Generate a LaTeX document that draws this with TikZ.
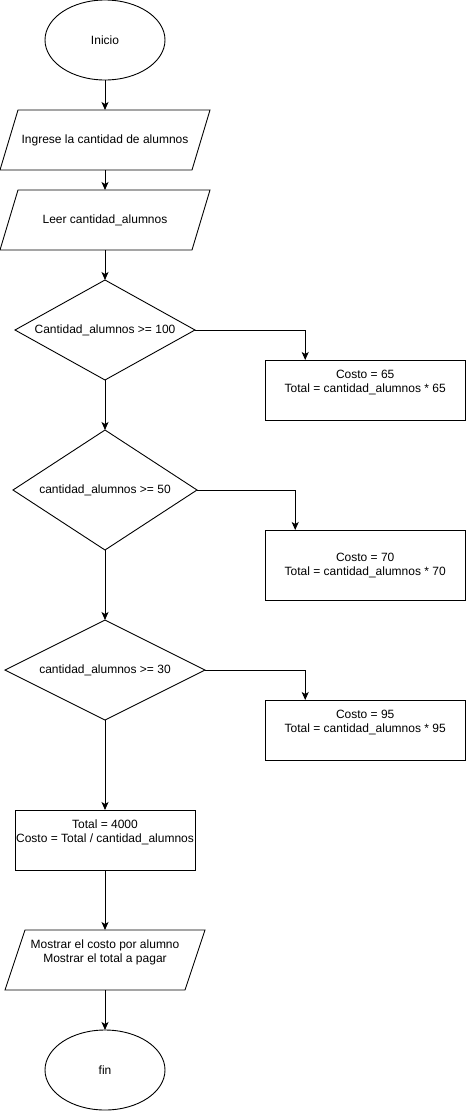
\documentclass[tikz,border=0pt]{standalone}
\usepackage{fontspec}
\setmainfont{Liberation Sans}
\usetikzlibrary{shapes.geometric,arrows.meta,calc}
\tikzset{
  base/.style={inner sep=0pt, outer sep=0pt, align=center, font=\fontsize{12}{14}\selectfont},
  shapeline/.style={draw=black, line width=0.9pt},
  term/.style={base, ellipse, shapeline, minimum width=120, minimum height=80},
  io/.style={base, minimum height=60},
  cond/.style={base, rectangle},
  proc/.style={base, rectangle, shapeline},
  arr/.style={line width=0.9pt, -{Stealth[length=8pt,width=7pt,inset=2pt]}}
}
\begin{document}
\begin{tikzpicture}[x=1pt,y=-1pt]
\useasboundingbox (0,0) rectangle (466,1111);
\node[term] (ini) at (105,40) {Inicio};
\node[io, minimum width=210] (p1) at (105,140) {Ingrese la cantidad de alumnos};
\node[io, minimum width=210] (p2) at (105,220) {Leer cantidad\_alumnos};
\node[cond, minimum width=180, minimum height=100] (d1) at (105,330) {Cantidad\_alumnos >= 100};
\node[proc, minimum width=200, minimum height=60] (b1) at (365.2,390) {Costo = 65\\Total = cantidad\_alumnos * 65\\\strut};
\node[cond, minimum width=184, minimum height=120] (d2) at (105,490) {cantidad\_alumnos >= 50};
\node[proc, minimum width=200, minimum height=70] (b2) at (365.2,565) {Costo = 70\\Total = cantidad\_alumnos * 70};
\node[cond, minimum width=200, minimum height=100] (d3) at (105,670) {cantidad\_alumnos >= 30};
\node[proc, minimum width=200, minimum height=60] (b3) at (365.2,730) {Costo = 95\\Total = cantidad\_alumnos * 95\\\strut};
\node[proc, minimum width=180, minimum height=60] (b4) at (105,840) {Total = 4000\\Costo = Total / cantidad\_alumnos\\\strut};
\node[io, minimum width=200] (p3) at (105,960) {Mostrar el costo por alumno\\Mostrar el total a pagar\\\strut};
\node[term] (fin) at (105,1070) {fin};
% parallelograms
\draw[shapeline] (p1.south west) -- ($(p1.north west)+(18,0)$) -- (p1.north east) -- ($(p1.south east)+(-18,0)$) -- cycle;
\draw[shapeline] (p2.south west) -- ($(p2.north west)+(18,0)$) -- (p2.north east) -- ($(p2.south east)+(-18,0)$) -- cycle;
\draw[shapeline] (p3.south west) -- ($(p3.north west)+(20,0)$) -- (p3.north east) -- ($(p3.south east)+(-20,0)$) -- cycle;
% diamonds
\draw[shapeline] (d1.north) -- (d1.east) -- (d1.south) -- (d1.west) -- cycle;
\draw[shapeline] (d2.north) -- (d2.east) -- (d2.south) -- (d2.west) -- cycle;
\draw[shapeline] (d3.north) -- (d3.east) -- (d3.south) -- (d3.west) -- cycle;
% connectors
\draw[arr] (ini.south) -- (p1.north);
\draw[arr] (p1.south) -- (p2.north);
\draw[arr] (p2.south) -- (d1.north);
\draw[arr] (d1.east) -| ($(b1.north west)+(40,0)$);
\draw[arr] (d1.south) -- (d2.north);
\draw[arr] (d2.east) -| ($(b2.north west)+(30,0)$);
\draw[arr] (d2.south) -- (d3.north);
\draw[arr] (d3.east) -| ($(b3.north west)+(40,0)$);
\draw[arr] (d3.south) -- (b4.north);
\draw[arr] (b4.south) -- (p3.north);
\draw[arr] (p3.south) -- (fin.north);
\end{tikzpicture}
\end{document}
